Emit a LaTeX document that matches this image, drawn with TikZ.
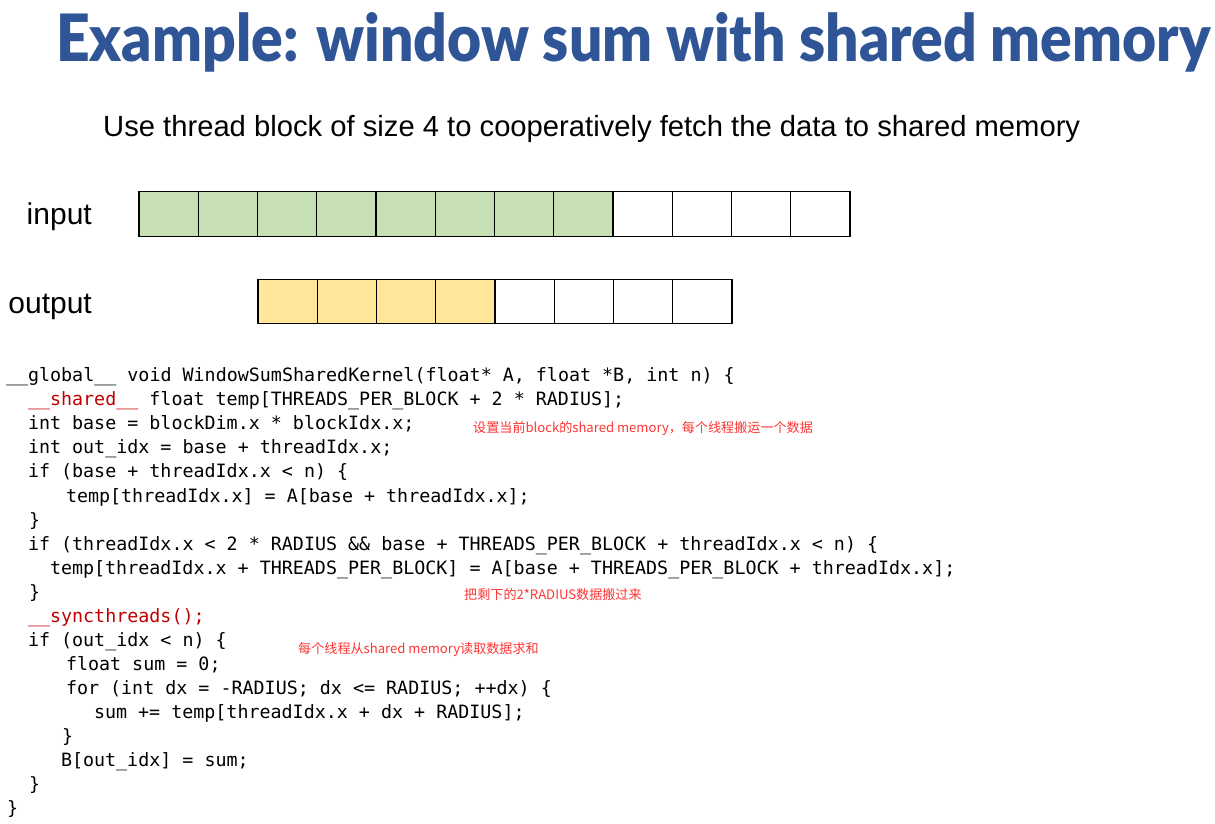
\documentclass[tikz,border=0pt]{standalone}
\usepackage{fontspec}
\setmainfont{Liberation Sans}
\newfontfamily\codefont{DejaVu Sans Mono}
\newfontfamily\cjkfont{Noto Sans CJK SC}
\newfontfamily\titlefont{Lato Black}
\definecolor{titleblue}{RGB}{47,85,151}
\definecolor{cellgreen}{RGB}{198,224,180}
\definecolor{cellyellow}{RGB}{255,230,153}
\definecolor{kwred}{RGB}{192,0,0}
\definecolor{noteRed}{RGB}{255,51,51}
\tikzset{
  cellbox/.style={draw=black, line width=1.4pt, minimum width=59.25pt, minimum height=44.5pt, inner sep=0pt, outer sep=0pt},
  codeline/.style={anchor=base west, inner sep=0pt, outer sep=0pt, font=\codefont\fontsize{18.34}{24}\selectfont},
  rowlabel/.style={anchor=base east, inner sep=0pt, font=\fontsize{30}{36}\selectfont},
  note/.style={anchor=west, inner sep=0pt, text=noteRed, font=\cjkfont\fontsize{13.1}{16}\selectfont}
}
\begin{document}
\begin{tikzpicture}[x=1pt,y=-1pt]
\useasboundingbox (0,0) rectangle (1215,824);
% title
\node[anchor=base west, inner sep=0pt, text=titleblue] (title) at (56,62)
  {\resizebox{1154pt}{49pt}{\titlefont Example: window sum with shared memory}};
\node[anchor=base west, inner sep=0pt] (subtitle) at (103,137)
  {\resizebox{977pt}{!}{\fontsize{30}{36}\selectfont Use thread block of size 4 to cooperatively fetch the data to shared memory}};
% labels
\node[rowlabel] (inlabel) at (92,224) {input};
\node[rowlabel] (outlabel) at (92,313) {output};
% input cells
\foreach \i in {1,...,12}{
  \pgfmathsetmacro{\cx}{139+59.25*(\i-0.5)}
  \ifnum\i<9
    \node[cellbox, fill=cellgreen] (in\i) at (\cx,214) {};
  \else
    \node[cellbox, fill=white] (in\i) at (\cx,214) {};
  \fi
}
% output cells
\foreach \i in {1,...,8}{
  \pgfmathsetmacro{\cx}{258+59.25*(\i-0.5)}
  \ifnum\i<5
    \node[cellbox, fill=cellyellow] (out\i) at (\cx,301.5) {};
  \else
    \node[cellbox, fill=white] (out\i) at (\cx,301.5) {};
  \fi
}
% code
\node[codeline] (c1) at (6,381.7) {\_\_global\_\_ void WindowSumSharedKernel(float* A, float *B, int n) \{};
\node[codeline] (c2) at (28,405.8) {\textcolor{kwred}{\_\_shared\_\_} float temp[THREADS\_PER\_BLOCK + 2 * RADIUS];};
\node[codeline] (c3) at (28,429.8) {int base = blockDim.x * blockIdx.x;};
\node[codeline] (c4) at (28,453.9) {int out\_idx = base + threadIdx.x;};
\node[codeline] (c5) at (28,477.9) {if (base + threadIdx.x < n) \{};
\node[codeline] (c6) at (66,502.0) {temp[threadIdx.x] = A[base + threadIdx.x];};
\node[codeline] (c7) at (29,526.1) {\}};
\node[codeline] (c8) at (28,550.1) {if (threadIdx.x < 2 * RADIUS \&\& base + THREADS\_PER\_BLOCK + threadIdx.x < n) \{};
\node[codeline] (c9) at (50,574.2) {temp[threadIdx.x + THREADS\_PER\_BLOCK] = A[base + THREADS\_PER\_BLOCK + threadIdx.x];};
\node[codeline] (c10) at (29,598.2) {\}};
\node[codeline] (c11) at (28,622.3) {\textcolor{kwred}{\_\_syncthreads();}};
\node[codeline] (c12) at (28,646.3) {if (out\_idx < n) \{};
\node[codeline] (c13) at (66,670.4) {float sum = 0;};
\node[codeline] (c14) at (66,694.5) {for (int dx = -RADIUS; dx <= RADIUS; ++dx) \{};
\node[codeline] (c15) at (94,718.5) {sum += temp[threadIdx.x + dx + RADIUS];};
\node[codeline] (c16) at (62,742.6) {\}};
\node[codeline] (c17) at (61,766.6) {B[out\_idx] = sum;};
\node[codeline] (c18) at (29,790.7) {\}};
\node[codeline] (c19) at (7,814.7) {\}};
% notes
\node[note] (n1) at (473,428) {设置当前block的shared memory，每个线程搬运一个数据};
\node[note] (n2) at (464,595) {把剩下的2*RADIUS数据搬过来};
\node[note] (n3) at (298,649) {每个线程从shared memory读取数据求和};
\end{tikzpicture}
\end{document}
